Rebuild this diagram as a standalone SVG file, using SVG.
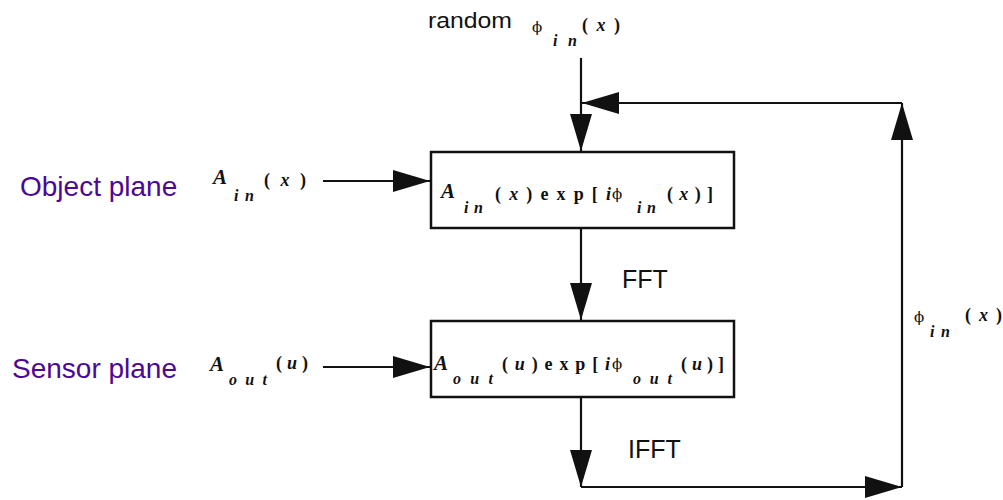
<svg xmlns="http://www.w3.org/2000/svg" width="1003" height="500" viewBox="0 0 1003 500">
<style>
.box{fill:#fff;stroke:#111;stroke-width:2.5}
.ln{fill:none;stroke:#111;stroke-width:2.2}
.lbl{font-family:"Liberation Sans",Arial,sans-serif;fill:#111}
.pl{font-family:"Liberation Sans",Arial,sans-serif;font-size:28px;fill:#4b0896}
.m{font-family:"Liberation Serif","Times New Roman",serif;fill:#111;font-weight:bold}
.ph{font-family:"DejaVu Serif",serif;font-weight:normal;font-size:15px;fill:#111}
.it{font-style:italic}
.big{font-size:21px}
.mid{font-size:18px}
.sub{font-size:16px;font-style:italic}
</style>
<defs>
<marker id="ah" markerUnits="userSpaceOnUse" markerWidth="37" markerHeight="22" refX="37" refY="11" orient="auto">
<path d="M0,0 L37,11 L0,22 z" fill="#111"/>
</marker>
</defs>

<g id="connectors">
<path class="ln" d="M581,58 V151" marker-end="url(#ah)"/>
<path class="ln" d="M323,181 H430" marker-end="url(#ah)"/>
<path class="ln" d="M323,367 H430" marker-end="url(#ah)"/>
<path class="ln" d="M581,228 V320" marker-end="url(#ah)"/>
<path class="ln" d="M581,397 V487" marker-end="url(#ah)"/>
<path class="ln" d="M581,487 H902" marker-end="url(#ah)"/>
<path class="ln" d="M902,487 V103" marker-end="url(#ah)"/>
<path class="ln" d="M902,103 H582" marker-end="url(#ah)"/>
</g>

<g id="random-input">
<text class="lbl" x="428" y="28" font-size="22" textLength="84" lengthAdjust="spacingAndGlyphs">random</text>
<text class="ph" x="532" y="32">ϕ</text>
<text class="m sub" x="553" y="46" textLength="24">in</text>
<text class="m mid" x="582" y="31" textLength="38">(<tspan class="it">x</tspan>)</text>
</g>

<g id="object-plane-label">
<text class="pl" x="20" y="196">Object plane</text>
</g>
<g id="sensor-plane-label">
<text class="pl" x="12" y="378">Sensor plane</text>
</g>

<g id="a-in-input">
<text class="m big it" x="213" y="184">A</text>
<text class="m sub" x="234" y="201" textLength="20">in</text>
<text class="m mid" x="264" y="186" textLength="42">(<tspan class="it">x</tspan>)</text>
</g>

<g id="a-out-input">
<text class="m big it" x="210" y="371">A</text>
<text class="m sub" x="229" y="385" textLength="38">out</text>
<text class="m mid" x="276" y="369" textLength="32">(<tspan class="it">u</tspan>)</text>
</g>

<g id="object-box">
<rect class="box" x="431" y="152" width="303" height="76"/>
<text class="m big it" x="441" y="198">A</text>
<text class="m sub" x="464" y="213" textLength="19">in</text>
<text class="m mid" x="495" y="200" textLength="116">(<tspan class="it">x</tspan>)exp[<tspan class="it">i</tspan></text>
<text class="ph" x="612" y="199">ϕ</text>
<text class="m sub" x="637" y="213" textLength="19">in</text>
<text class="m mid" x="667" y="200" textLength="46">(<tspan class="it">x</tspan>)]</text>
</g>

<g id="sensor-box">
<rect class="box" x="431" y="321" width="303" height="76"/>
<text class="m big it" x="434" y="370">A</text>
<text class="m sub" x="453" y="384" textLength="40">out</text>
<text class="m mid" x="502" y="370" textLength="108">(<tspan class="it">u</tspan>)exp[<tspan class="it">i</tspan></text>
<text class="ph" x="612" y="369">ϕ</text>
<text class="m sub" x="633" y="384" textLength="39">out</text>
<text class="m mid" x="681" y="370" textLength="43">(<tspan class="it">u</tspan>)]</text>
</g>

<g id="fft-label">
<text class="lbl" x="622" y="288" font-size="25">FFT</text>
</g>
<g id="ifft-label">
<text class="lbl" x="628" y="458" font-size="25">IFFT</text>
</g>

<g id="phi-feedback-label">
<text class="ph" x="914" y="322">ϕ</text>
<text class="m sub" x="930" y="337" textLength="20">in</text>
<text class="m mid" x="965" y="321" textLength="37">(<tspan class="it">x</tspan>)</text>
</g>
</svg>
